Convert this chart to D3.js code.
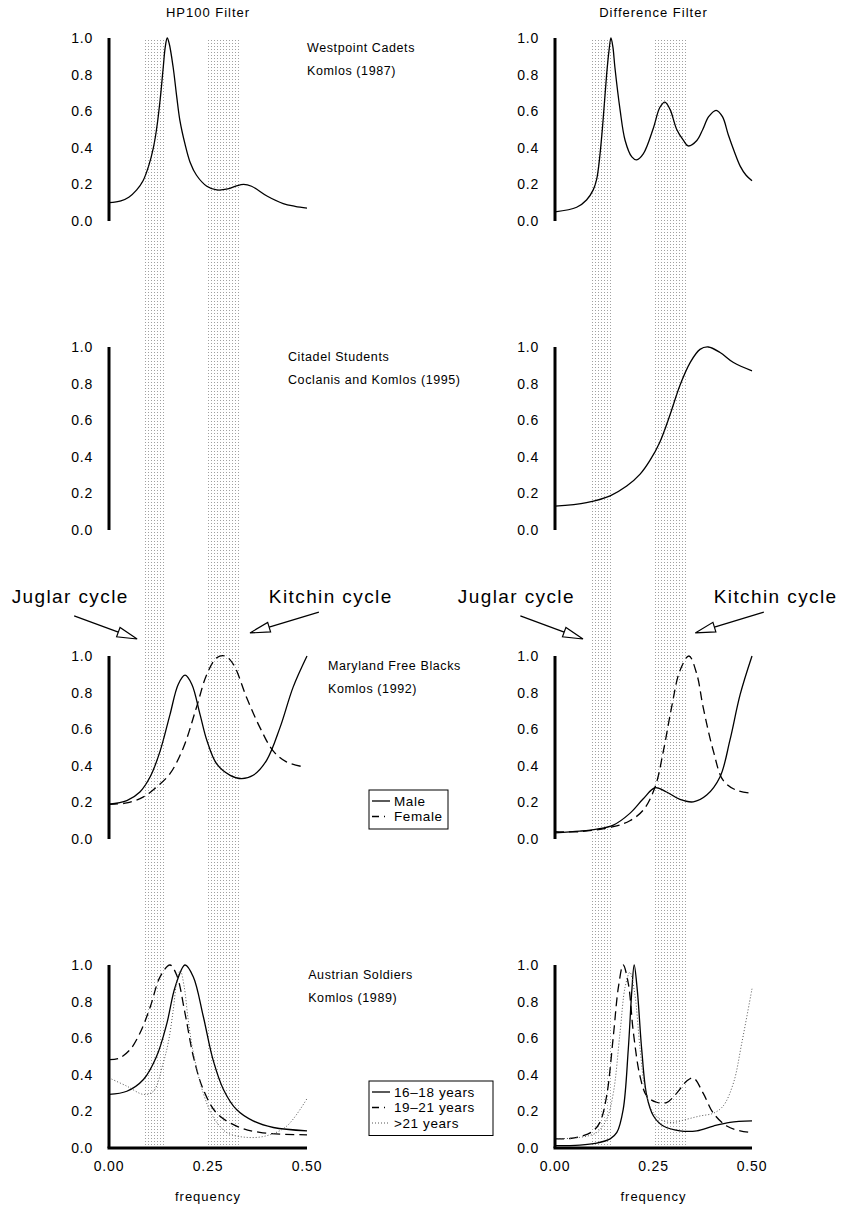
<!DOCTYPE html>
<html>
<head>
<meta charset="utf-8">
<script src="https://cdn.jsdelivr.net/npm/d3@7"></script>
<style>
body { margin: 0; background: #fff; }
svg text { font-family: "Liberation Sans", Arial, sans-serif; fill: #000; }
</style>
</head>
<body>
<div id="chart"></div>
<script>
// frequency ticks and value ticks
const freqTicks = [0, 0.25, 0.5];
const valueTicks = [0, 0.2, 0.4, 0.6, 0.8, 1.0];
const columnTitles = ["HP100 Filter", "Difference Filter"];

// Juglar (7-11 years) and Kitchin (3-4 years) frequency bands
const juglarBand = [1 / 11, 1 / 7];
const kitchinBand = [1 / 4, 1 / 3];

const panelLabels = [
    ["Westpoint Cadets", "Komlos (1987)"],
    ["Citadel Students", "Coclanis and Komlos (1995)"],
    ["Maryland Free Blacks", "Komlos (1992)"],
    ["Austrian Soldiers", "Komlos (1989)"]
];

// Westpoint cadets
const westHpF = [0, 0.03, 0.05, 0.07, 0.086, 0.10, 0.112, 0.12, 0.129, 0.137, 0.142, 0.147, 0.152, 0.162, 0.171, 0.179, 0.192, 0.205, 0.221, 0.247, 0.272, 0.30, 0.32, 0.34, 0.36, 0.40, 0.44, 0.47, 0.50];
const westHpV = [0.10, 0.11, 0.13, 0.17, 0.22, 0.30, 0.40, 0.50, 0.66, 0.84, 0.95, 1.0, 0.97, 0.84, 0.68, 0.55, 0.42, 0.32, 0.25, 0.19, 0.17, 0.175, 0.19, 0.20, 0.19, 0.135, 0.095, 0.08, 0.07];
const westDfF = [0, 0.055, 0.08, 0.097, 0.106, 0.114, 0.122, 0.131, 0.137, 0.142, 0.147, 0.152, 0.165, 0.178, 0.195, 0.207, 0.224, 0.25, 0.266, 0.279, 0.292, 0.309, 0.326, 0.338, 0.36, 0.375, 0.39, 0.409, 0.425, 0.44, 0.455, 0.47, 0.485, 0.50];
const westDfV = [0.05, 0.075, 0.115, 0.17, 0.23, 0.36, 0.55, 0.80, 0.93, 1.0, 0.95, 0.84, 0.61, 0.44, 0.35, 0.334, 0.367, 0.51, 0.62, 0.65, 0.61, 0.50, 0.44, 0.41, 0.44, 0.50, 0.57, 0.605, 0.57, 0.47, 0.38, 0.30, 0.25, 0.22];

// Citadel students (difference filter only)
const citDfF = [0, 0.08, 0.14, 0.182, 0.216, 0.241, 0.266, 0.292, 0.317, 0.343, 0.368, 0.389, 0.419, 0.453, 0.50];
const citDfV = [0.13, 0.15, 0.187, 0.24, 0.305, 0.38, 0.48, 0.63, 0.79, 0.915, 0.987, 1.0, 0.97, 0.915, 0.87];

// Maryland free blacks
const mdHpMaleF = [0, 0.045, 0.078, 0.104, 0.129, 0.154, 0.175, 0.192, 0.209, 0.23, 0.247, 0.272, 0.306, 0.335, 0.364, 0.398, 0.432, 0.465, 0.50];
const mdHpMaleV = [0.19, 0.21, 0.257, 0.34, 0.48, 0.68, 0.846, 0.895, 0.846, 0.68, 0.54, 0.41, 0.348, 0.33, 0.348, 0.43, 0.61, 0.83, 1.0];
const mdHpFemF = [0, 0.045, 0.087, 0.12, 0.154, 0.188, 0.221, 0.247, 0.272, 0.293, 0.314, 0.348, 0.381, 0.415, 0.449, 0.495];
const mdHpFemV = [0.19, 0.197, 0.23, 0.284, 0.357, 0.50, 0.72, 0.90, 0.99, 1.0, 0.955, 0.77, 0.61, 0.48, 0.42, 0.393];
const mdDfMaleF = [0, 0.063, 0.106, 0.148, 0.19, 0.224, 0.254, 0.283, 0.317, 0.351, 0.385, 0.419, 0.444, 0.47, 0.50];
const mdDfMaleV = [0.034, 0.043, 0.054, 0.076, 0.14, 0.22, 0.28, 0.257, 0.216, 0.203, 0.24, 0.34, 0.54, 0.79, 1.0];
const mdDfFemF = [0, 0.063, 0.148, 0.19, 0.224, 0.254, 0.275, 0.296, 0.317, 0.34, 0.36, 0.376, 0.402, 0.427, 0.461, 0.50];
const mdDfFemV = [0.04, 0.04, 0.067, 0.10, 0.158, 0.284, 0.48, 0.72, 0.92, 1.0, 0.90, 0.72, 0.48, 0.32, 0.266, 0.25];

// Austrian soldiers: 16-18, 19-21, >21 years
const atHp1F = [0, 0.045, 0.087, 0.12, 0.146, 0.167, 0.192, 0.213, 0.238, 0.263, 0.289, 0.322, 0.364, 0.415, 0.50];
const atHp1V = [0.293, 0.31, 0.374, 0.50, 0.68, 0.88, 1.0, 0.935, 0.72, 0.48, 0.32, 0.21, 0.148, 0.112, 0.094];
const atHp2F = [0, 0.025, 0.053, 0.078, 0.104, 0.129, 0.154, 0.171, 0.192, 0.213, 0.238, 0.272, 0.322, 0.381, 0.50];
const atHp2V = [0.483, 0.49, 0.537, 0.627, 0.77, 0.935, 1.0, 0.944, 0.736, 0.50, 0.32, 0.19, 0.12, 0.085, 0.072];
const atHp3F = [0, 0.045, 0.087, 0.112, 0.137, 0.15, 0.162, 0.172, 0.18, 0.19, 0.2, 0.213, 0.238, 0.263, 0.297, 0.348, 0.398, 0.449, 0.5];
const atHp3V = [0.383, 0.338, 0.293, 0.31, 0.465, 0.58, 0.75, 0.92, 0.97, 0.88, 0.70, 0.52, 0.30, 0.17, 0.085, 0.058, 0.067, 0.12, 0.27];
const atDf1F = [0, 0.063, 0.106, 0.14, 0.157, 0.173, 0.186, 0.195, 0.201, 0.209, 0.22, 0.233, 0.25, 0.275, 0.317, 0.36, 0.402, 0.444, 0.50];
const atDf1V = [0.013, 0.016, 0.027, 0.05, 0.085, 0.21, 0.54, 0.86, 1.0, 0.86, 0.54, 0.284, 0.175, 0.12, 0.094, 0.094, 0.12, 0.14, 0.148];
const atDf2F = [0, 0.038, 0.072, 0.097, 0.114, 0.131, 0.148, 0.161, 0.173, 0.186, 0.199, 0.216, 0.233, 0.258, 0.283, 0.309, 0.334, 0.351, 0.376, 0.402, 0.436, 0.47, 0.50];
const atDf2V = [0.05, 0.052, 0.067, 0.094, 0.14, 0.284, 0.61, 0.88, 1.0, 0.90, 0.63, 0.39, 0.284, 0.25, 0.248, 0.30, 0.365, 0.383, 0.30, 0.19, 0.12, 0.094, 0.085];
const atDf3F = [0, 0.063, 0.106, 0.131, 0.148, 0.165, 0.178, 0.19, 0.202, 0.216, 0.229, 0.25, 0.275, 0.3, 0.334, 0.368, 0.402, 0.427, 0.453, 0.474, 0.5];
const atDf3V = [0.05, 0.058, 0.085, 0.157, 0.30, 0.63, 0.88, 0.96, 0.85, 0.54, 0.32, 0.19, 0.148, 0.14, 0.157, 0.175, 0.19, 0.23, 0.356, 0.573, 0.87];

const mdLegend = ["Male", "Female"];
const atLegend = ["16\u201318 years", "19\u201321 years", ">21 years"];

function init() {
    var w = 843;
    var h = 1210;
    var panelTops = [38, 347, 656, 965];
    var panelH = 183;
    var colX = [[109, 307], [555, 752]];
    var styles = {
        solid: { dash: null, color: "#000", width: 1.3 },
        dashed: { dash: "9,5", color: "#000", width: 1.3 },
        dotted: { dash: "1,2", color: "#555", width: 1 }
    };

    // panel contents: [row][col] -> list of curves
    const panels = [
        [[{ f: westHpF, v: westHpV, s: "solid" }], [{ f: westDfF, v: westDfV, s: "solid" }]],
        [[], [{ f: citDfF, v: citDfV, s: "solid" }]],
        [[{ f: mdHpMaleF, v: mdHpMaleV, s: "solid" }, { f: mdHpFemF, v: mdHpFemV, s: "dashed" }],
         [{ f: mdDfMaleF, v: mdDfMaleV, s: "solid" }, { f: mdDfFemF, v: mdDfFemV, s: "dashed" }]],
        [[{ f: atHp1F, v: atHp1V, s: "solid" }, { f: atHp2F, v: atHp2V, s: "dashed" }, { f: atHp3F, v: atHp3V, s: "dotted" }],
         [{ f: atDf1F, v: atDf1V, s: "solid" }, { f: atDf2F, v: atDf2V, s: "dashed" }, { f: atDf3F, v: atDf3V, s: "dotted" }]]
    ];

    const svg = d3.select("#chart")
        .append("svg")
        .attr("width", w)
        .attr("height", h);

    const pat = svg.append("defs").append("pattern")
        .attr("id", "dots")
        .attr("patternUnits", "userSpaceOnUse")
        .attr("width", 3)
        .attr("height", 3);
    pat.append("rect").attr("x", 1).attr("y", 1).attr("width", 1).attr("height", 1).attr("fill", "#a0a0a0");

    function xScaleFor(c) {
        return d3.scaleLinear().domain([0, 0.5]).range(colX[c]);
    }
    function yScaleFor(r) {
        return d3.scaleLinear().domain([0, 1]).range([panelTops[r] + panelH, panelTops[r]]);
    }

    // shaded bands running through all rows
    for (let c = 0; c < 2; c++) {
        const x = xScaleFor(c);
        [juglarBand, kitchinBand].forEach(b => {
            svg.append("rect")
                .attr("x", x(b[0]))
                .attr("y", panelTops[0])
                .attr("width", x(b[1]) - x(b[0]))
                .attr("height", panelTops[3] + panelH - panelTops[0] + 2)
                .attr("fill", "url(#dots)");
        });
        svg.append("text")
            .attr("x", x(0.25))
            .attr("y", 17)
            .attr("text-anchor", "middle")
            .attr("font-size", 13)
            .attr("letter-spacing", 1)
            .text(columnTitles[c]);
    }

    for (let r = 0; r < 4; r++) {
        const y = yScaleFor(r);
        for (let c = 0; c < 2; c++) {
            const x = xScaleFor(c);
            const g = svg.append("g");

            panels[r][c].forEach(cv => {
                const pts = cv.f.map((f, i) => [f, cv.v[i]]);
                const line = d3.line()
                    .x(d => x(d[0]))
                    .y(d => y(d[1]))
                    .curve(d3.curveCatmullRom.alpha(0.5));
                const st = styles[cv.s];
                g.append("path")
                    .attr("d", line(pts))
                    .attr("fill", "none")
                    .attr("stroke", st.color)
                    .attr("stroke-width", st.width)
                    .attr("stroke-dasharray", st.dash);
            });

            // y axis
            g.append("line")
                .attr("x1", x(0)).attr("x2", x(0))
                .attr("y1", y(1)).attr("y2", y(0))
                .attr("stroke", "#000").attr("stroke-width", 3);
            g.selectAll(".ytick")
                .data(valueTicks)
                .enter()
                .append("text")
                .attr("x", x(0) - 16)
                .attr("y", d => y(d))
                .attr("dy", "0.36em")
                .attr("text-anchor", "end")
                .attr("font-size", 14)
                .attr("letter-spacing", 0.8)
                .text(d => d3.format(".1f")(d));

            if (r === 3) {
                g.append("line")
                    .attr("x1", x(0) - 1.5).attr("x2", x(0.5))
                    .attr("y1", y(0)).attr("y2", y(0))
                    .attr("stroke", "#000").attr("stroke-width", 3);
                g.selectAll(".xtick")
                    .data(freqTicks)
                    .enter()
                    .append("text")
                    .attr("x", d => x(d))
                    .attr("y", y(0) + 23)
                    .attr("text-anchor", "middle")
                    .attr("font-size", 14)
                    .attr("letter-spacing", 0.8)
                    .text(d => d3.format(".2f")(d));
                g.append("text")
                    .attr("x", x(0.25))
                    .attr("y", y(0) + 53)
                    .attr("text-anchor", "middle")
                    .attr("font-size", 13)
                    .attr("letter-spacing", 1)
                    .text("frequency");
            }
        }

        // sample label, placed right of the left panel
        const xl = xScaleFor(0);
        const lx = [0.5, 0.452, 0.553, 0.503][r];
        panelLabels[r].forEach((t, i) => {
            svg.append("text")
                .attr("x", xl(lx))
                .attr("y", panelTops[r] + 14 + i * 23)
                .attr("font-size", 12.5)
                .attr("letter-spacing", 0.6)
                .text(t);
        });
    }

    // cycle annotations with open-headed arrows, in the row-3 coordinates
    const yA = yScaleFor(2);
    const notes = [
        { text: "Juglar cycle", tx: -0.098, tail: [-0.088, 1.219], tip: [0.071, 1.093] },
        { text: "Kitchin cycle", tx: 0.56, tail: [0.53, 1.24], tip: [0.356, 1.126] }
    ];
    for (let c = 0; c < 2; c++) {
        const x = xScaleFor(c);
        notes.forEach(n => {
            svg.append("text")
                .attr("x", x(n.tx))
                .attr("y", yA(1.29))
                .attr("text-anchor", "middle")
                .attr("font-size", 19)
                .attr("letter-spacing", 1.4)
                .text(n.text);
            const x0 = x(n.tail[0]), y0 = yA(n.tail[1]);
            const x1 = x(n.tip[0]), y1 = yA(n.tip[1]);
            const len = Math.hypot(x1 - x0, y1 - y0);
            const ux = (x1 - x0) / len, uy = (y1 - y0) / len;
            const bx = x1 - ux * 20, by = y1 - uy * 20;
            svg.append("line")
                .attr("x1", x0).attr("y1", y0)
                .attr("x2", bx).attr("y2", by)
                .attr("stroke", "#000").attr("stroke-width", 1.2);
            svg.append("polygon")
                .attr("points", [[x1, y1], [bx - uy * 5, by + ux * 5], [bx + uy * 5, by - ux * 5]].map(p => p.join(",")).join(" "))
                .attr("fill", "#fff")
                .attr("stroke", "#000")
                .attr("stroke-width", 1.2);
        });
    }

    // legends
    function legend(labels, kinds, x0, y0, bw) {
        const rowH = 15.5;
        svg.append("rect")
            .attr("x", x0).attr("y", y0)
            .attr("width", bw).attr("height", labels.length * rowH + 8)
            .attr("fill", "#fff").attr("stroke", "#000").attr("stroke-width", 1);
        labels.forEach((t, i) => {
            const yy = y0 + 11 + i * rowH;
            const st = styles[kinds[i]];
            svg.append("line")
                .attr("x1", x0 + 3).attr("x2", x0 + 21)
                .attr("y1", yy).attr("y2", yy)
                .attr("stroke", st.color).attr("stroke-width", st.width)
                .attr("stroke-dasharray", kinds[i] === "dashed" ? "7,5,1,5" : st.dash);
            svg.append("text")
                .attr("x", x0 + 25).attr("y", yy)
                .attr("dy", "0.36em")
                .attr("font-size", 13.5)
                .attr("letter-spacing", 0.6)
                .text(t);
        });
    }
    legend(mdLegend, ["solid", "dashed"], 369, 790, 79);
    legend(atLegend, ["solid", "dashed", "dotted"], 369, 1081, 124);
}

window.onload = init;
</script>
</body>
</html>
